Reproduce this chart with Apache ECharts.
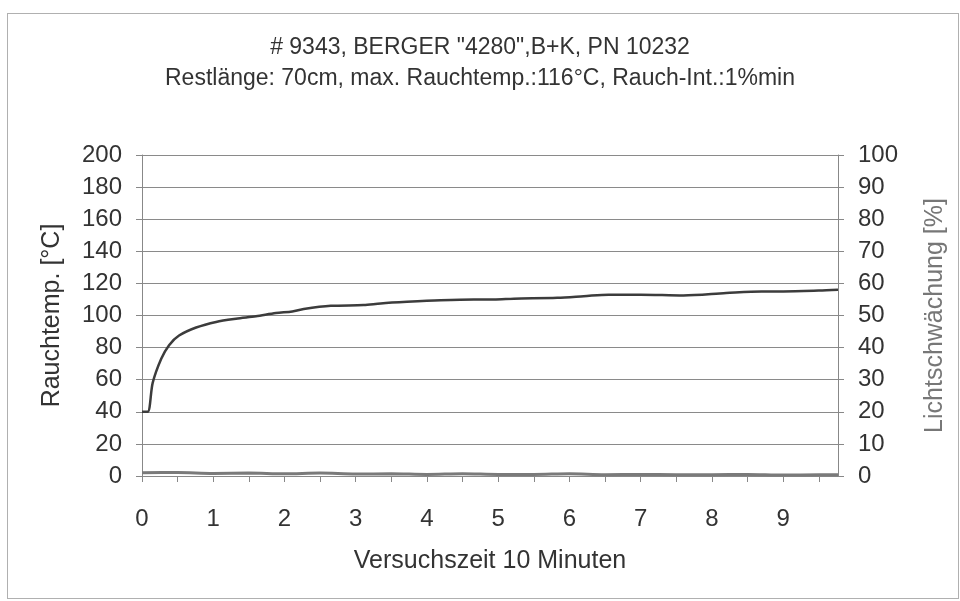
<!DOCTYPE html>
<html>
<head>
<meta charset="utf-8">
<script src="https://cdn.jsdelivr.net/npm/echarts@6/dist/echarts.min.js"></script>
<style>
  html, body { margin: 0; padding: 0; background: #fff; }
  #frame { position: absolute; left: 7px; top: 13px; width: 950px; height: 584px; border: 1px solid #b0b0b0; }
  #chart { width: 960px; height: 601px; }
</style>
</head>
<body>
<div id="frame"></div>
<div id="chart"></div>
<script>
// Rauchtemperatur [°C] ueber Versuchszeit [min]
var tempTime = [0, 0.08, 0.15, 0.27, 0.38, 0.52, 0.76, 1.04, 1.32, 1.6, 1.88, 2.11, 2.27, 2.65, 3.11, 3.35, 3.72, 4.19, 4.66, 4.94, 5.22, 5.83, 6.2, 6.55, 7.0, 7.6, 8.2, 8.7, 9.0, 9.5, 9.77];
var tempValues = [40, 40, 58, 73, 81.5, 87.5, 92.5, 96, 98, 99.5, 101.5, 102.5, 104, 106, 106.5, 107.5, 108.5, 109.5, 110, 110, 110.5, 111, 112, 113, 113, 112.5, 114, 115, 115, 115.5, 116];
// Lichtschwaechung [%]
var lightTime = [0, 0.5, 1, 1.5, 2, 2.5, 3, 3.5, 4, 4.5, 5, 5.5, 6, 6.5, 7, 7.5, 8, 8.5, 9, 9.5, 9.77];
var lightValues = [1, 1.1, 0.8, 0.9, 0.7, 0.9, 0.6, 0.7, 0.5, 0.7, 0.5, 0.5, 0.7, 0.4, 0.5, 0.4, 0.4, 0.5, 0.3, 0.4, 0.4];

var titleLines = ['# 9343, BERGER "4280",B+K, PN 10232', 'Restlänge: 70cm, max. Rauchtemp.:116°C, Rauch-Int.:1%min'];

var chart = echarts.init(document.getElementById('chart'));

function pairs(xs, ys) {
  return xs.map(function (x, i) { return [x, ys[i]]; });
}

var font = 'Liberation Sans, Arial, sans-serif';

chart.setOption({
  backgroundColor: 'transparent',
  animation: false,
  title: {
    text: titleLines.join('\n'),
    left: 'center',
    top: 27,
    textStyle: { fontFamily: font, fontSize: 23, fontWeight: 'normal', color: '#333', lineHeight: 31 }
  },
  grid: { left: 142, right: 122, top: 155, bottom: 125 },
  xAxis: {
    type: 'value',
    min: 0,
    max: 9.77,
    interval: 0.5,
    name: 'Versuchszeit 10 Minuten',
    nameLocation: 'middle',
    nameGap: 73,
    nameTextStyle: { fontFamily: font, fontSize: 25, color: '#333' },
    axisLine: { lineStyle: { color: '#888', width: 1 } },
    axisTick: { show: true, inside: false, length: 6, lineStyle: { color: '#888' } },
    axisLabel: {
      fontFamily: font, fontSize: 24, color: '#333', margin: 31,
      showMaxLabel: false,
      formatter: function (v) { return (Math.abs(v - Math.round(v)) < 1e-6) ? String(Math.round(v)) : ''; }
    },
    splitLine: { show: false }
  },
  yAxis: [{
    type: 'value',
    min: 0,
    max: 200,
    interval: 20,
    name: 'Rauchtemp. [°C]',
    nameLocation: 'middle',
    nameGap: 77,
    nameTextStyle: { fontFamily: font, fontSize: 25, color: '#333' },
    axisLine: { show: true, lineStyle: { color: '#888' } },
    axisTick: { show: true, length: 6, lineStyle: { color: '#888' } },
    axisLabel: { fontFamily: font, fontSize: 24, color: '#333', margin: 20 },
    splitLine: { show: true, lineStyle: { color: '#8a8a8a', width: 1 } }
  }, {
    type: 'value',
    min: 0,
    max: 100,
    interval: 10,
    position: 'right',
    name: 'Lichtschwächung [%]',
    nameLocation: 'middle',
    nameGap: 85,
    nameRotate: 90,
    nameTextStyle: { fontFamily: font, fontSize: 25, color: '#777' },
    axisLine: { show: true, lineStyle: { color: '#888' } },
    axisTick: { show: true, length: 6, lineStyle: { color: '#888' } },
    axisLabel: { fontFamily: font, fontSize: 24, color: '#333', margin: 20 },
    splitLine: { show: false }
  }],
  series: [{
    name: 'Rauchtemp.',
    type: 'line',
    yAxisIndex: 0,
    data: pairs(tempTime, tempValues),
    showSymbol: false,
    smooth: 0.3,
    lineStyle: { color: '#3c3c3c', width: 2.5 }
  }, {
    name: 'Lichtschwächung',
    type: 'line',
    yAxisIndex: 1,
    data: pairs(lightTime, lightValues),
    showSymbol: false,
    smooth: 0.3,
    lineStyle: { color: '#7a7a7a', width: 3 }
  }]
});
</script>
</body>
</html>
